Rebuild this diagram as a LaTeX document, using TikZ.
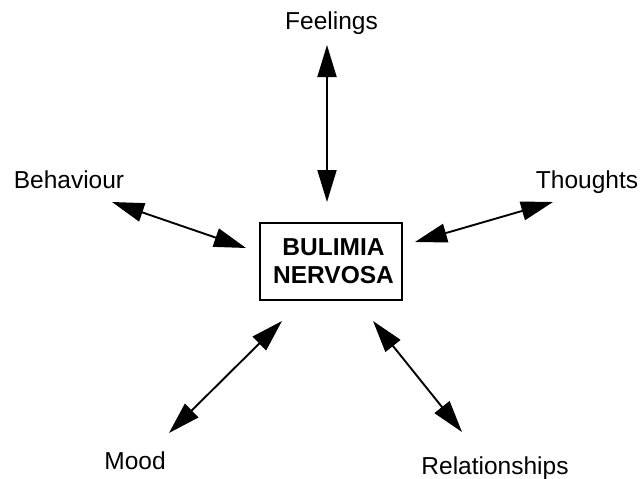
\documentclass[tikz,border=0pt]{standalone}
\usepackage{fontspec}
\setmainfont{Liberation Sans}
\usetikzlibrary{arrows.meta}
\begin{document}
\begin{tikzpicture}[x=1pt,y=-1pt,
  lbl/.style={anchor=base,inner sep=0pt,font=\fontsize{24.5}{28}\selectfont},
  boxnode/.style={draw,line width=1.6pt,minimum width=142pt,minimum height=77pt,inner sep=0pt,align=center,font=\fontsize{24.5}{28}\selectfont\bfseries},
  link/.style={line width=1.9pt,{Triangle[length=32pt,width=19pt]}-{Triangle[length=32pt,width=19pt]}}]
\useasboundingbox (0,0) rectangle (641,479);
\node[boxnode] (bn) at (331,261.5) {\hspace*{5pt}BULIMIA\\\hspace*{5pt}NERVOSA};
\node[lbl] (feel) at (331.5,30) {Feelings};
\node[lbl] (beh) at (69,188) {Behaviour};
\node[lbl] (tho) at (587,188) {Thoughts};
\node[lbl] (mood) at (135,469) {Mood};
\node[lbl] (rel) at (495,474) {Relationships};
\coordinate (f1) at (327,45);  \coordinate (f2) at (327,202);
\coordinate (b1) at (112,202); \coordinate (b2) at (246,248);
\coordinate (t1) at (553,202); \coordinate (t2) at (415,242);
\coordinate (m1) at (169,433); \coordinate (m2) at (282,321);
\coordinate (r1) at (462,432); \coordinate (r2) at (373,321);
\draw[link] (f1) -- (f2);
\draw[link] (b1) -- (b2);
\draw[link] (t1) -- (t2);
\draw[link] (m1) -- (m2);
\draw[link] (r1) -- (r2);
\end{tikzpicture}
\end{document}
